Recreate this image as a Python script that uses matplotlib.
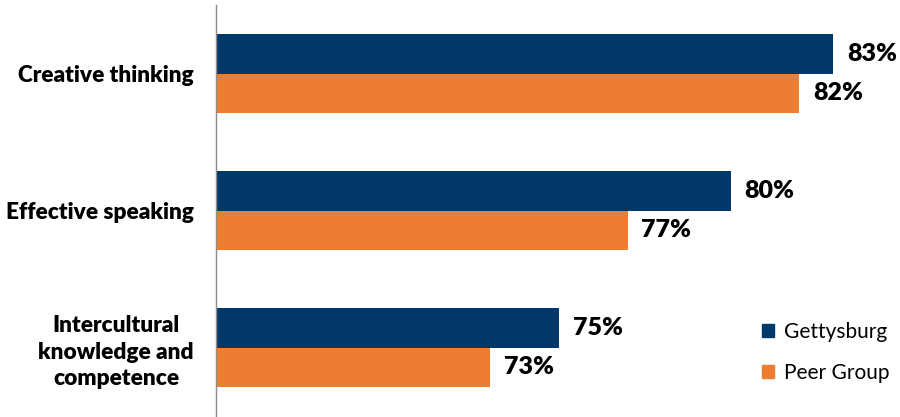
import matplotlib
matplotlib.use("Agg")
import matplotlib.pyplot as plt
from matplotlib.patches import Patch
import numpy as np

categories = ["Creative thinking", "Effective speaking", "Intercultural\nknowledge and\ncompetence"]
gettysburg = [83, 80, 75]
peer_group = [82, 77, 73]
series_names = ["Gettysburg", "Peer Group"]
colors = ["#01386A", "#ED7D31"]

plt.rcParams['font.family'] = ['Lato', 'DejaVu Sans']

fig = plt.figure(figsize=(9, 4.17), dpi=100)
ax = fig.add_axes([216/900, 1-416/417, 686/900, 411/417])

y = np.arange(len(categories))
h = 0.285
b1 = ax.barh(y - h/2, gettysburg, height=h, color=colors[0], left=0)
b2 = ax.barh(y + h/2, peer_group, height=h, color=colors[1], left=0)

for bars, vals in ((b1, gettysburg), (b2, peer_group)):
    for rect, v in zip(bars, vals):
        ax.annotate(f"{v}%", (v, rect.get_y() + rect.get_height()/2),
                    xytext=(10, 0), textcoords="offset points",
                    ha="left", va="center", fontsize=18, fontweight="heavy", color="black")

ax.set_xlim(65, 85)
ax.set_ylim(2.5, -0.5)
ax.set_yticks(y)
ax.set_yticklabels(categories, fontsize=16.3, fontweight="heavy", multialignment="center",
                   linespacing=1.3)
ax.tick_params(axis="y", length=0, pad=16)
ax.set_xticks([])
for s in ("top", "right", "bottom"):
    ax.spines[s].set_visible(False)
ax.spines["left"].set_color("#8C8C8C")
ax.spines["left"].set_linewidth(1)

handles = [Patch(color=c) for c in colors]
fig.legend(handles, series_names, loc="upper left", bbox_to_anchor=(743/900, 1-303/417),
           frameon=False, fontsize=15, handlelength=0.6, handleheight=0.6,
           handletextpad=0.45, labelspacing=1.0)

fig.savefig("out.png", dpi=100)
